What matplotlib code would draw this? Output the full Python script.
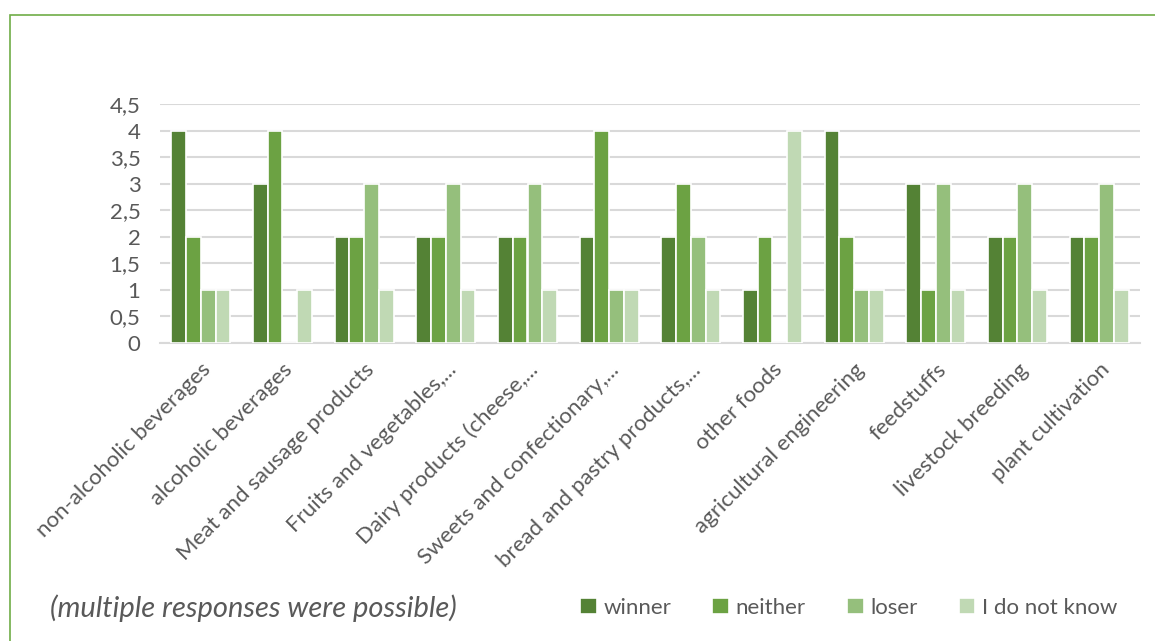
import matplotlib.pyplot as plt
import numpy as np
from matplotlib.patches import Rectangle
from matplotlib.ticker import FuncFormatter, MultipleLocator

categories = ["non-alcoholic beverages", "alcoholic beverages", "Meat and sausage products",
              "Fruits and vegetables,...", "Dairy products (cheese,...",
              "Sweets and confectionary,...", "bread and pastry products,...",
              "other foods", "agricultural engineering", "feedstuffs",
              "livestock breeding", "plant cultivation"]
winner = [4, 3, 2, 2, 2, 2, 2, 1, 4, 3, 2, 2]
neither = [2, 4, 2, 2, 2, 4, 3, 2, 2, 1, 2, 2]
loser = [1, 0, 3, 3, 3, 1, 2, 0, 1, 3, 3, 3]
dont_know = [1, 1, 1, 1, 1, 1, 1, 4, 1, 1, 1, 1]

series = [("winner", winner, "#548235"), ("neither", neither, "#6CA243"),
          ("loser", loser, "#95BF7C"), ("I do not know", dont_know, "#C0D9B4")]

plt.rcParams["font.family"] = ["Lato", "DejaVu Sans"]
fig = plt.figure(figsize=(11.55, 6.41), dpi=100)

# thin green frame round the chart area (runs off the right and bottom edges)
fig.patches.append(Rectangle((10 / 1155, -0.1), 1.2, 1 - 15 / 641 + 0.1, transform=fig.transFigure,
                             fill=False, edgecolor="#70AD47", linewidth=1.2))

ax = fig.add_axes([160 / 1155, 1 - 343 / 641, 980 / 1155, 239 / 641])
x = np.arange(len(categories))
w = 0.18
for i, (name, vals, col) in enumerate(series):
    ax.bar(x + (i - 1.5) * w, vals, width=w, color=col, edgecolor="white",
           linewidth=1.2, label=name, zorder=3)

ax.set_xlim(-0.5, len(categories) - 0.5)
ax.set_ylim(0, 4.5)
ax.yaxis.set_major_locator(MultipleLocator(0.5))
ax.yaxis.set_major_formatter(FuncFormatter(lambda v, p: f"{v:g}".replace(".", ",")))
ax.grid(axis="y", color="#D9D9D9", linewidth=1.5, zorder=0)
for s in ["top", "right", "left"]:
    ax.spines[s].set_visible(False)
ax.spines["bottom"].set_color("#D9D9D9")
ax.spines["bottom"].set_linewidth(1.5)
ax.tick_params(axis="both", length=0, colors="#595959")
ax.tick_params(axis="y", pad=14, labelsize=16)
ax.tick_params(axis="x", pad=12, labelsize=16)
ax.set_xticks(x)
ax.set_xticklabels(categories, rotation=45, ha="right", rotation_mode="anchor")

fig.text(50 / 1155, 1 - 608 / 641, "(multiple responses were possible)", style="italic",
         fontsize=21, color="#595959", va="center")
fig.legend(loc="center left", bbox_to_anchor=(560 / 1155, 1 - 608 / 641), ncol=4, frameon=False,
           fontsize=16, handlelength=0.75, handleheight=0.75, handletextpad=0.3,
           columnspacing=1.85, labelcolor="#595959")

fig.savefig("out.png", dpi=100)
